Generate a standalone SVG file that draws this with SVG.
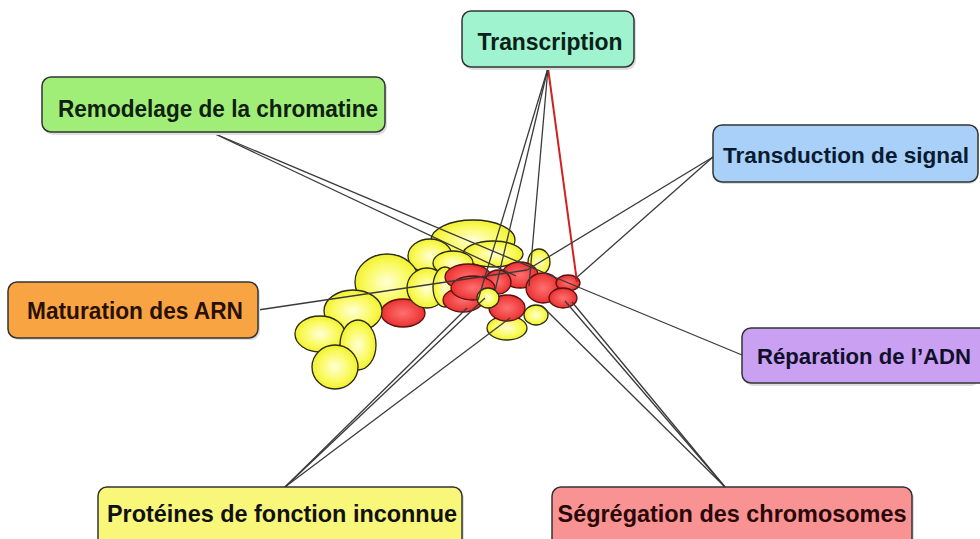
<svg xmlns="http://www.w3.org/2000/svg" width="980" height="539" viewBox="0 0 980 539">
<defs>
<radialGradient id="gy" cx="50%" cy="50%" r="55%"><stop offset="0" stop-color="#ffffd8"/><stop offset="0.6" stop-color="#fafa60"/><stop offset="1" stop-color="#eeee20"/></radialGradient>
<radialGradient id="gr" cx="50%" cy="50%" r="55%"><stop offset="0" stop-color="#ff7070"/><stop offset="0.7" stop-color="#f04040"/><stop offset="1" stop-color="#e02828"/></radialGradient>
</defs>
<style>
.box{stroke:#333;stroke-width:1.5}
.sh{fill:#dedede}
.lbl{font-family:"Liberation Sans",Arial,sans-serif;font-weight:bold;font-size:24.5px;text-anchor:middle}
.lbl.sm{font-size:22.5px}
.y{fill:url(#gy);stroke:#2a2a10;stroke-width:1.3}
.r{fill:url(#gr);stroke:#5a1010;stroke-width:1.3}
.c line{stroke:#3a3a3a;stroke-width:1.3}
.c line.red{stroke:#d42020;stroke-width:2}
</style>
<rect width="980" height="539" fill="#ffffff"/>
<g id="cluster">
<ellipse class="y" cx="473" cy="240" rx="42" ry="20"/>
<ellipse class="y" cx="430" cy="256" rx="22" ry="17"/>
<ellipse class="y" cx="493" cy="254" rx="30" ry="13"/>
<ellipse class="y" cx="453" cy="263" rx="20" ry="12"/>
<ellipse class="y" cx="539" cy="262" rx="11" ry="13"/>
<ellipse class="y" cx="387" cy="282" rx="32" ry="28"/>
<ellipse class="r" cx="403" cy="313" rx="22" ry="14"/>
<ellipse class="y" cx="353" cy="311" rx="29" ry="21"/>
<ellipse class="y" cx="320" cy="334" rx="25" ry="18"/>
<ellipse class="y" cx="358" cy="345" rx="18" ry="25"/>
<ellipse class="y" cx="335" cy="367" rx="23" ry="22"/>
<ellipse class="y" cx="427" cy="288" rx="20" ry="20"/>
<ellipse class="y" cx="445" cy="287" rx="12" ry="20"/>
<ellipse class="y" cx="507" cy="328" rx="20" ry="12"/>
<ellipse class="y" cx="536" cy="315" rx="12" ry="10"/>
<ellipse class="r" cx="468" cy="277" rx="23" ry="13"/>
<ellipse class="r" cx="463" cy="300" rx="20" ry="12"/>
<ellipse class="r" cx="520" cy="275" rx="18" ry="13"/>
<ellipse class="r" cx="543" cy="288" rx="17" ry="15"/>
<ellipse class="r" cx="568" cy="283" rx="12" ry="8"/>
<ellipse class="r" cx="563" cy="298" rx="14" ry="10"/>
<ellipse class="r" cx="498" cy="282" rx="13" ry="12"/>
<ellipse class="r" cx="507" cy="308" rx="18" ry="13"/>
<ellipse class="r" cx="473" cy="288" rx="22" ry="12"/>
<ellipse class="y" cx="488" cy="298" rx="11" ry="10"/>
</g>
<g id="connectors" class="c">
<line class="red" x1="548" y1="68" x2="577" y2="282"/>
<line x1="548" y1="68" x2="478" y2="300"/>
<line x1="548" y1="68" x2="495" y2="291"/>
<line x1="548" y1="68" x2="529" y2="286"/>
<line x1="213" y1="133" x2="578" y2="287"/>
<line x1="213" y1="133" x2="516" y2="276"/>
<line x1="713" y1="157" x2="527" y2="270"/>
<line x1="713" y1="157" x2="575" y2="279"/>
<line x1="258" y1="310" x2="527" y2="270"/>
<line x1="742" y1="355" x2="578" y2="287"/>
<line x1="285" y1="487" x2="467" y2="308"/>
<line x1="285" y1="487" x2="485" y2="298"/>
<line x1="285" y1="487" x2="510" y2="318"/>
<line x1="725" y1="487" x2="565" y2="301"/>
<line x1="725" y1="487" x2="572" y2="302"/>
<line x1="725" y1="487" x2="542" y2="306"/>
</g>
<g id="transcription">
<rect class="sh" x="464" y="13" width="172" height="57" rx="9"/>
<rect class="box" x="462" y="11" width="172" height="56" rx="9" fill="#9ff3cf"/>
<text class="lbl" x="550" y="50" fill="#0a2018" textLength="145" lengthAdjust="spacingAndGlyphs">Transcription</text>
</g>
<g id="remodelage">
<rect class="sh" x="44" y="79" width="343" height="56" rx="9"/>
<rect class="box" x="42" y="77" width="343" height="55" rx="9" fill="#a0ee78"/>
<text class="lbl" x="218" y="117" fill="#102010" textLength="320" lengthAdjust="spacingAndGlyphs">Remodelage de la chromatine</text>
</g>
<g id="transduction">
<rect class="sh" x="715" y="127" width="263" height="57" rx="9"/>
<rect class="box" x="713" y="125" width="265" height="57" rx="9" fill="#a8d0f8"/>
<text class="lbl sm" x="846" y="163" fill="#0a1a30" textLength="246" lengthAdjust="spacingAndGlyphs">Transduction de signal</text>
</g>
<g id="maturation">
<rect class="sh" x="10" y="284" width="250" height="56" rx="9"/>
<rect class="box" x="8" y="282" width="250" height="56" rx="9" fill="#f9a443"/>
<text class="lbl" x="135" y="319" fill="#2a1000" textLength="216" lengthAdjust="spacingAndGlyphs">Maturation des ARN</text>
</g>
<g id="reparation">
<rect class="sh" x="744" y="330" width="236" height="56" rx="9"/>
<rect class="box" x="742" y="328" width="250" height="55" rx="9" fill="#c9a0f2"/>
<text class="lbl sm" x="864" y="364" fill="#10102a" textLength="214" lengthAdjust="spacingAndGlyphs">Réparation de l’ADN</text>
</g>
<g id="proteines">
<rect class="sh" x="100" y="489" width="364" height="70" rx="9"/>
<rect class="box" x="98" y="487" width="364" height="70" rx="9" fill="#f9f77a"/>
<text class="lbl" x="282" y="522" fill="#111111" textLength="350" lengthAdjust="spacingAndGlyphs">Protéines de fonction inconnue</text>
</g>
<g id="segregation">
<rect class="sh" x="554" y="489" width="360" height="70" rx="9"/>
<rect class="box" x="552" y="487" width="360" height="70" rx="9" fill="#f99292"/>
<text class="lbl" x="732" y="522" fill="#2a0808" textLength="349" lengthAdjust="spacingAndGlyphs">Ségrégation des chromosomes</text>
</g>
</svg>
